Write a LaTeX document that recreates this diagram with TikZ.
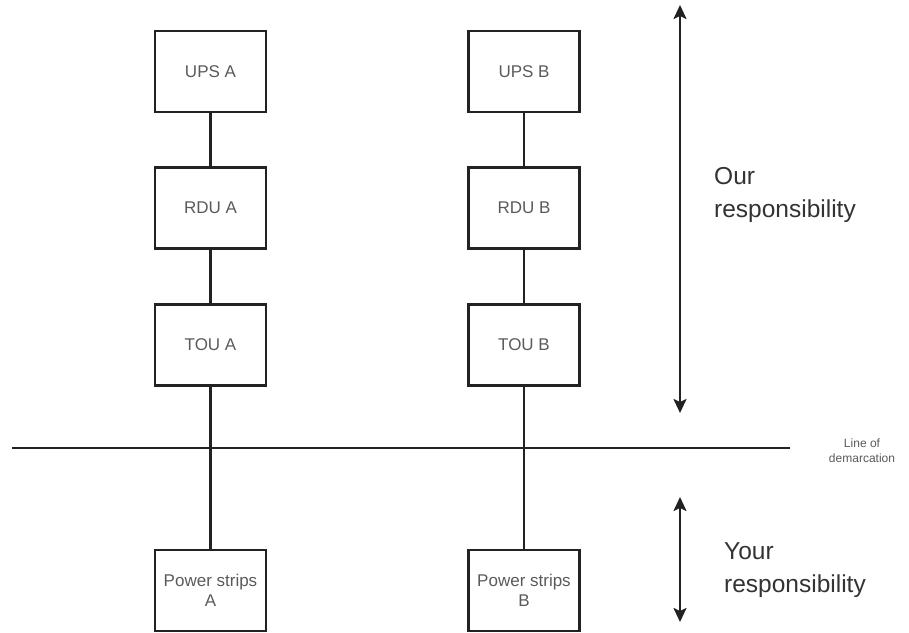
\documentclass[tikz,border=0pt]{standalone}
\usepackage{fontspec}
\setmainfont{Liberation Sans}
\usetikzlibrary{arrows.meta}
\definecolor{labelgray}{HTML}{5A5A5A}
\definecolor{linedark}{HTML}{222222}
\tikzset{
  unitbox/.style={draw=linedark, line width=2.2pt, minimum width=111pt, minimum height=81pt, inner sep=0pt, align=center, text=labelgray, font=\fontsize{17}{20}\selectfont},
  wire/.style={draw=linedark, line width=2.2pt},
  span/.style={draw=linedark, line width=2.2pt, {Stealth[length=14pt,width=13pt,inset=3pt]}-{Stealth[length=14pt,width=13pt,inset=3pt]}},
  bigtext/.style={align=left, text=black!80, font=\fontsize{24.5}{33}\selectfont, inner sep=0pt},
  smalltext/.style={align=center, text=labelgray, font=\fontsize{12}{15}\selectfont, inner sep=0pt}
}
\begin{document}
\begin{tikzpicture}[x=1pt,y=-1pt]
\useasboundingbox (0,0) rectangle (909,632);
\node[unitbox] (upsa) at (210.5,71.5) {UPS A};
\node[unitbox] (rdua) at (210.5,208) {RDU A};
\node[unitbox] (toua) at (210.5,345) {TOU A};
\node[unitbox] (psa) at (210.5,590.5) {Power strips\\A};
\node[unitbox] (upsb) at (524,71.5) {UPS B};
\node[unitbox] (rdub) at (524,208) {RDU B};
\node[unitbox] (toub) at (524,345) {TOU B};
\node[unitbox] (psb) at (524,590.5) {Power strips\\B};
\draw[wire] (upsa) -- (rdua);
\draw[wire] (rdua) -- (toua);
\draw[wire] (toua) -- (psa);
\draw[wire] (upsb) -- (rdub);
\draw[wire] (rdub) -- (toub);
\draw[wire] (toub) -- (psb);
\coordinate (dl) at (12,448);
\coordinate (dr) at (790,448);
\draw[wire] (dl) -- (dr);
\node[smalltext] (demarc) at (862,451) {Line of\\demarcation};
\coordinate (a1) at (680,5);
\coordinate (a2) at (680,413);
\coordinate (b1) at (680,497);
\coordinate (b2) at (680,622);
\draw[span] (a1) -- (a2);
\draw[span] (b1) -- (b2);
\node[bigtext, anchor=west] (ours) at (714,195) {Our\\responsibility};
\node[bigtext, anchor=west] (yours) at (724,570) {Your\\responsibility};
\end{tikzpicture}
\end{document}
